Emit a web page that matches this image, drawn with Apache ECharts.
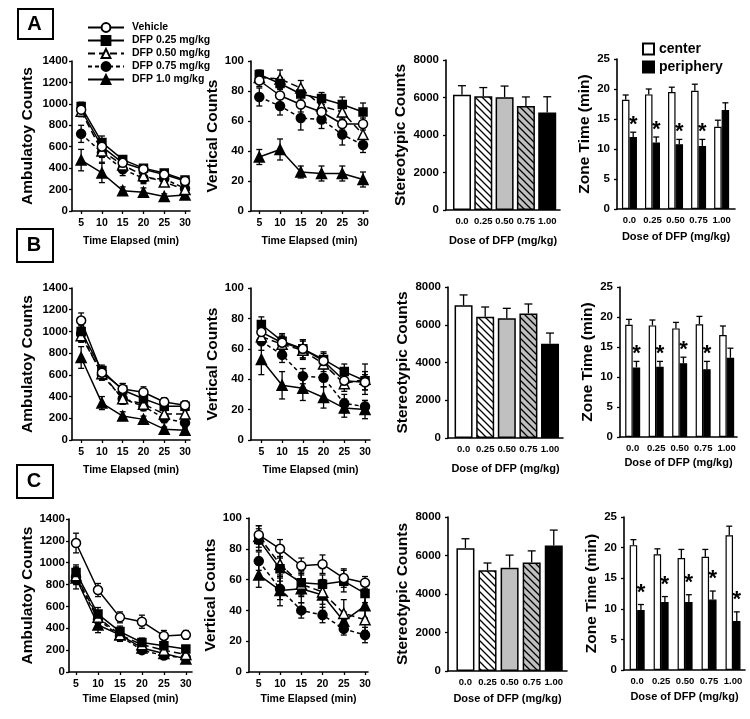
<!DOCTYPE html>
<html>
<head>
<meta charset="utf-8">
<script src="https://cdn.jsdelivr.net/npm/echarts@6.0.0/dist/echarts.min.js"></script>
<style>html,body{margin:0;padding:0;background:#fff;}#chart{width:750px;height:719px;}</style>
</head>
<body>
<div id="chart"></div>
<script>
// ---------- categories / labels ----------
const times = [5, 10, 15, 20, 25, 30];
const groupNames = ['Vehicle', 'DFP 0.25 mg/kg', 'DFP 0.50 mg/kg', 'DFP 0.75 mg/kg', 'DFP 1.0 mg/kg'];
const doseLabels = ['0.0', '0.25', '0.50', '0.75', '1.00'];
const doseIdx = [0, 1, 2, 3, 4];
const zoneNames = ['center', 'periphery'];
const panelLetters = ['A', 'B', 'C'];

// ---------- Row A ----------
const ambA_mean = [
  [945, 600, 450, 390, 340, 280],
  [975, 640, 480, 400, 355, 290],
  [930, 560, 430, 330, 270, 200],
  [720, 545, 390, 305, 300, 210],
  [475, 355, 190, 175, 135, 150]
];
const ambA_err = [
  [50, 60, 40, 30, 30, 30],
  [40, 60, 30, 30, 30, 30],
  [50, 60, 40, 40, 40, 40],
  [80, 90, 60, 50, 50, 40],
  [100, 90, 35, 40, 25, 35]
];
const vertA_mean = [
  [87, 77, 71, 66, 58, 58],
  [91, 85, 78, 75, 71, 66],
  [89, 88, 82, 70, 66, 51],
  [76, 70, 62, 61, 51, 44],
  [36, 41, 26, 25, 25, 21]
];
const vertA_err = [
  [4, 5, 5, 5, 4, 4],
  [3, 4, 4, 4, 5, 6],
  [4, 6, 5, 5, 5, 5],
  [6, 6, 8, 6, 7, 5],
  [5, 7, 4, 5, 5, 5]
];
const stereoA_mean = [6150, 6070, 6020, 5550, 5200];
const stereoA_err = [480, 460, 590, 480, 840];
const zoneA_center = [18.2, 19.1, 19.5, 19.7, 13.7];
const zoneA_centerErr = [0.8, 0.9, 0.8, 1.1, 1.1];
const zoneA_periph = [12.0, 11.1, 10.8, 10.5, 16.5];
const zoneA_periphErr = [0.8, 0.9, 0.8, 1.1, 1.2];
const zoneA_sig = [1, 1, 1, 1, 0];

// ---------- Row B ----------
const ambB_mean = [
  [1100, 620, 470, 440, 350, 320],
  [1000, 640, 460, 380, 310, 310],
  [960, 610, 380, 330, 240, 240],
  [980, 600, 380, 310, 200, 160],
  [760, 340, 220, 190, 100, 90]
];
const ambB_err = [
  [70, 50, 50, 50, 40, 40],
  [60, 50, 60, 40, 40, 40],
  [60, 50, 50, 40, 40, 40],
  [70, 50, 50, 40, 40, 40],
  [100, 60, 40, 30, 20, 20]
];
const vertB_mean = [
  [71, 64, 60, 52, 39, 38],
  [76, 65, 60, 53, 45, 39],
  [68, 63, 59, 50, 37, 40],
  [65, 56, 42, 41, 24, 22],
  [53, 36, 34, 28, 21, 20]
];
const vertB_err = [
  [5, 5, 6, 5, 5, 5],
  [5, 5, 6, 5, 5, 6],
  [5, 5, 6, 5, 5, 10],
  [6, 5, 5, 6, 6, 4],
  [10, 9, 8, 7, 6, 6]
];
const stereoB_mean = [7030, 6420, 6350, 6600, 5000];
const stereoB_err = [550, 520, 520, 500, 560];
const zoneB_center = [18.7, 18.6, 18.1, 18.8, 17.0];
const zoneB_centerErr = [0.9, 0.9, 1.0, 1.3, 1.5];
const zoneB_periph = [11.6, 11.7, 12.3, 11.3, 13.2];
const zoneB_periphErr = [1.0, 0.9, 1.0, 1.3, 1.6];
const zoneB_sig = [1, 1, 1, 1, 0];

// ---------- Row C ----------
const ambC_mean = [
  [1180, 750, 500, 460, 330, 340],
  [910, 530, 370, 270, 240, 210],
  [880, 500, 340, 250, 200, 160],
  [870, 480, 330, 200, 150, 130],
  [860, 430, 340, 220, 170, 120]
];
const ambC_err = [
  [90, 60, 50, 60, 50, 40],
  [70, 60, 50, 40, 30, 30],
  [80, 60, 50, 40, 30, 30],
  [60, 50, 40, 30, 30, 20],
  [100, 70, 60, 40, 30, 20]
];
const vertC_mean = [
  [89, 80, 69, 70, 61, 58],
  [86, 67, 58, 57, 59, 51],
  [88, 70, 57, 52, 38, 34],
  [72, 54, 40, 37, 28, 24],
  [63, 53, 54, 50, 33, 43]
];
const vertC_err = [
  [6, 6, 5, 6, 6, 4],
  [7, 8, 8, 6, 7, 6],
  [7, 8, 8, 8, 9, 7],
  [6, 7, 5, 5, 4, 5],
  [8, 10, 9, 10, 6, 8]
];
const stereoC_mean = [6380, 5230, 5370, 5640, 6520];
const stereoC_err = [490, 380, 650, 600, 800];
const zoneC_center = [20.4, 18.9, 18.3, 18.5, 22.0];
const zoneC_centerErr = [0.9, 0.9, 1.4, 1.2, 1.5];
const zoneC_periph = [9.8, 11.1, 11.1, 11.5, 8.0];
const zoneC_periphErr = [0.9, 0.9, 1.2, 1.4, 1.5];
const zoneC_sig = [1, 1, 1, 1, 1];

// ---------- styling / layout ----------
const FF = '"Liberation Sans", Arial, Helvetica, sans-serif';
const layout = {
  amb: [
    {l: 72, t: 61, w: 118, h: 150, xmin: 2.8, xmax: 31.2, gap: 25},
    {l: 72, t: 288, w: 118, h: 152, xmin: 2.8, xmax: 31.2, gap: 25},
    {l: 69, t: 519, w: 123, h: 153, xmin: 3.4, xmax: 31.4, gap: 22}
  ],
  vert: [
    {l: 251, t: 61, w: 117, h: 150, xmin: 3.0, xmax: 31.2, gap: 25},
    {l: 251, t: 288, w: 119, h: 152, xmin: 2.5, xmax: 31.2, gap: 25},
    {l: 249, t: 518, w: 119, h: 154, xmin: 2.7, xmax: 30.7, gap: 22}
  ],
  stereo: [
    {l: 446, t: 60, w: 114, h: 150, xmin: -0.75, xmax: 4.6, gap: 25},
    {l: 448, t: 287, w: 115, h: 151, xmin: -0.72, xmax: 4.6, gap: 25},
    {l: 448, t: 517, w: 119, h: 154, xmin: -0.79, xmax: 4.6, gap: 22}
  ],
  zone: [
    {l: 617, t: 59, w: 118, h: 150, xmin: -0.54, xmax: 4.58, gap: 22, star: 7},
    {l: 620, t: 287, w: 117, h: 150, xmin: -0.54, xmax: 4.44, gap: 20, star: 7},
    {l: 624, t: 517, w: 121, h: 153, xmin: -0.55, xmax: 4.5, gap: 21, star: 12}
  ]
};

const lineLooks = [
  {symbol: 'circle', size: 9, fill: '#fff', dash: 'solid'},
  {symbol: 'rect', size: 8, fill: '#000', dash: 'solid'},
  {symbol: 'triangle', size: 10, fill: '#fff', dash: [7, 4]},
  {symbol: 'circle', size: 9, fill: '#000', dash: [4, 3]},
  {symbol: 'triangle', size: 10, fill: '#000', dash: 'solid'}
];

function hatch(bg) {
  const s = 7;
  const c = document.createElement('canvas');
  c.width = s; c.height = s;
  const g = c.getContext('2d');
  g.fillStyle = bg; g.fillRect(0, 0, s, s);
  g.strokeStyle = '#000'; g.lineWidth = 1.3;
  g.beginPath();
  g.moveTo(-1, -1); g.lineTo(s + 1, s + 1);
  g.moveTo(-1, s - 1); g.lineTo(1, s + 1);
  g.moveTo(s - 1, -1); g.lineTo(s + 1, 1);
  g.stroke();
  return c;
}
const stereoFills = [
  '#ffffff',
  {image: hatch('#ffffff'), repeat: 'repeat'},
  '#c0c0c0',
  {image: hatch('#c0c0c0'), repeat: 'repeat'},
  '#000000'
];

const axisLineStyle = {show: true, onZero: false, lineStyle: {color: '#000', width: 1.6}};
const tickStyle = {show: true, inside: false, length: 3, lineStyle: {color: '#000', width: 1.3}};
const nameStyle = (size) => ({fontSize: size, fontWeight: 'bold', color: '#000', fontFamily: FF});
const ST = {stroke: '#000', lineWidth: 1.3};

const grids = [], xAxes = [], yAxes = [], series = [];

function addGrid(g) {
  grids.push({left: g.l, top: g.t, width: g.w, height: g.h, containLabel: false});
  return grids.length - 1;
}
function yAxis(i, max, interval, name, nameGap, margin) {
  return {
    gridIndex: i, type: 'value', min: 0, max: max, interval: interval,
    axisLine: axisLineStyle, axisTick: tickStyle, splitLine: {show: false},
    axisLabel: {margin: margin, fontSize: 11.5, fontWeight: 'bold', color: '#000', fontFamily: FF,
      formatter: v => String(v)},
    name: name, nameLocation: 'middle', nameGap: nameGap, nameTextStyle: nameStyle(15.5)
  };
}

function errRender(params, api) {
  const x = api.value(0);
  const lo = api.coord([x, api.value(1)]);
  const hi = api.coord([x, api.value(2)]);
  const w = 3;
  return {type: 'group', children: [
    {type: 'line', shape: {x1: hi[0], y1: hi[1], x2: lo[0], y2: lo[1]}, style: ST},
    {type: 'line', shape: {x1: hi[0] - w, y1: hi[1], x2: hi[0] + w, y2: hi[1]}, style: ST},
    {type: 'line', shape: {x1: lo[0] - w, y1: lo[1], x2: lo[0] + w, y2: lo[1]}, style: ST}
  ]};
}
function capRender(dx, w, starOff) {
  return function (params, api) {
    const x = api.value(0);
    const base = api.coord([x, api.value(1)]);
    const top = api.coord([x, api.value(2)]);
    const px = base[0] + dx;
    const children = [
      {type: 'line', shape: {x1: px, y1: base[1], x2: px, y2: top[1]}, style: ST},
      {type: 'line', shape: {x1: px - w, y1: top[1], x2: px + w, y2: top[1]}, style: ST}
    ];
    if (starOff != null && api.value(3)) {
      children.push({type: 'text', x: px, y: top[1] - starOff,
        style: {text: '*', fontSize: 22, fontWeight: 'bold', fontFamily: FF, fill: '#000', align: 'center', verticalAlign: 'middle'}});
    }
    return {type: 'group', children: children};
  };
}

function linePanel(g, yMax, yInt, yName, yGap, yMargin, means, errs) {
  const i = addGrid(g);
  xAxes.push({
    gridIndex: i, type: 'value', min: g.xmin, max: g.xmax,
    axisLine: axisLineStyle, axisTick: Object.assign({}, tickStyle, {customValues: times}),
    axisLabel: {customValues: times, margin: 7, fontSize: 10.5, fontWeight: 'bold', color: '#000', fontFamily: FF},
    splitLine: {show: false},
    name: 'Time Elapsed (min)', nameLocation: 'middle', nameGap: g.gap, nameTextStyle: nameStyle(10.5)
  });
  yAxes.push(yAxis(i, yMax, yInt, yName, yGap, yMargin));
  means.forEach((m, k) => {
    series.push({
      type: 'custom', xAxisIndex: i, yAxisIndex: i, z: 1, silent: true,
      renderItem: errRender, encode: {x: 0, y: [1, 2]},
      data: times.map((t, j) => [t, m[j] - errs[k][j], m[j] + errs[k][j]])
    });
  });
  means.forEach((m, k) => {
    const L = lineLooks[k];
    series.push({
      type: 'line', name: groupNames[k], xAxisIndex: i, yAxisIndex: i, z: 3 + (4 - k) * 0.1,
      symbol: L.symbol, symbolSize: L.size, showSymbol: true, showAllSymbol: true,
      lineStyle: {color: '#000', width: 1.5, type: L.dash},
      itemStyle: {color: L.fill, borderColor: '#000', borderWidth: 1.5},
      data: times.map((t, j) => [t, m[j]])
    });
  });
}

function doseXAxis(i, g, margin) {
  return {
    gridIndex: i, type: 'value', min: g.xmin, max: g.xmax,
    axisLine: axisLineStyle, axisTick: {show: false}, splitLine: {show: false},
    axisLabel: {customValues: doseIdx, formatter: v => doseLabels[Math.round(v)], margin: margin,
      fontSize: 9.5, fontWeight: 'bold', color: '#000', fontFamily: FF},
    name: 'Dose of DFP (mg/kg)', nameLocation: 'middle', nameGap: g.gap, nameTextStyle: nameStyle(11)
  };
}

function stereoPanel(g, means, errs) {
  const i = addGrid(g);
  xAxes.push(doseXAxis(i, g, 6));
  yAxes.push(yAxis(i, 8000, 2000, 'Stereotypic Counts', 37, 7));
  series.push({
    type: 'bar', xAxisIndex: i, yAxisIndex: i, barWidth: 18, z: 2,
    data: means.map((v, k) => ({value: [doseIdx[k], v],
      itemStyle: {color: stereoFills[k], borderColor: '#000', borderWidth: 1.5}}))
  });
  series.push({
    type: 'custom', xAxisIndex: i, yAxisIndex: i, z: 1, silent: true,
    renderItem: capRender(0, 4, null), encode: {x: 0, y: [1, 2]},
    data: means.map((v, k) => [doseIdx[k], v, v + errs[k]])
  });
}

function zonePanel(g, cM, cE, pM, pE, sig) {
  const i = addGrid(g);
  const bw = 7.5;
  xAxes.push(doseXAxis(i, g, 6));
  yAxes.push(yAxis(i, 25, 5, 'Zone Time (min)', 24, 7));
  series.push({
    type: 'bar', name: zoneNames[0], xAxisIndex: i, yAxisIndex: i, barWidth: bw, barGap: '0%', z: 2,
    itemStyle: {color: '#fff', borderColor: '#000', borderWidth: 1.2},
    data: cM.map((v, k) => [doseIdx[k], v])
  });
  series.push({
    type: 'bar', name: zoneNames[1], xAxisIndex: i, yAxisIndex: i, barWidth: bw, barGap: '0%', z: 2,
    itemStyle: {color: '#000', borderColor: '#000', borderWidth: 1.2},
    data: pM.map((v, k) => [doseIdx[k], v])
  });
  series.push({
    type: 'custom', xAxisIndex: i, yAxisIndex: i, z: 1, silent: true,
    renderItem: capRender(-bw / 2, 3, null), encode: {x: 0, y: [1, 2]},
    data: cM.map((v, k) => [doseIdx[k], v, v + cE[k]])
  });
  series.push({
    type: 'custom', xAxisIndex: i, yAxisIndex: i, z: 1, silent: true,
    renderItem: capRender(bw / 2, 3, g.star), encode: {x: 0, y: [1, 2]},
    data: pM.map((v, k) => [doseIdx[k], v, v + pE[k], sig[k]])
  });
}

// Row A
linePanel(layout.amb[0], 1400, 200, 'Ambulatoy Counts', 36, 4, ambA_mean, ambA_err);
linePanel(layout.vert[0], 100, 20, 'Vertical Counts', 30, 7, vertA_mean, vertA_err);
stereoPanel(layout.stereo[0], stereoA_mean, stereoA_err);
zonePanel(layout.zone[0], zoneA_center, zoneA_centerErr, zoneA_periph, zoneA_periphErr, zoneA_sig);
// Row B
linePanel(layout.amb[1], 1400, 200, 'Ambulatoy Counts', 36, 4, ambB_mean, ambB_err);
linePanel(layout.vert[1], 100, 20, 'Vertical Counts', 30, 7, vertB_mean, vertB_err);
stereoPanel(layout.stereo[1], stereoB_mean, stereoB_err);
zonePanel(layout.zone[1], zoneB_center, zoneB_centerErr, zoneB_periph, zoneB_periphErr, zoneB_sig);
// Row C
linePanel(layout.amb[2], 1400, 200, 'Ambulatoy Counts', 33, 4, ambC_mean, ambC_err);
linePanel(layout.vert[2], 100, 20, 'Vertical Counts', 30, 7, vertC_mean, vertC_err);
stereoPanel(layout.stereo[2], stereoC_mean, stereoC_err);
zonePanel(layout.zone[2], zoneC_center, zoneC_centerErr, zoneC_periph, zoneC_periphErr, zoneC_sig);

const letterBoxes = [
  {x: 17, y: 8, w: 35, h: 30},
  {x: 16, y: 228, w: 36, h: 33},
  {x: 16, y: 464, w: 36, h: 33}
];
const graphics = [];
letterBoxes.forEach((b, k) => {
  graphics.push({type: 'rect', left: b.x, top: b.y, shape: {width: b.w, height: b.h},
    style: {fill: '#fff', stroke: '#000', lineWidth: 2}});
  graphics.push({type: 'text', x: b.x + b.w / 2, y: b.y + b.h / 2 + 1,
    style: {text: panelLetters[k], fontSize: 20, fontWeight: 'bold', fontFamily: FF, fill: '#000', align: 'center', verticalAlign: 'middle'}});
});

const option = {
  animation: false,
  backgroundColor: '#fff',
  textStyle: {fontFamily: FF},
  grid: grids, xAxis: xAxes, yAxis: yAxes, series: series,
  legend: [
    {data: groupNames, orient: 'vertical', left: 82, top: 17, itemWidth: 36, itemHeight: 11, itemGap: 2,
      selectedMode: false, textStyle: {fontSize: 10.5, fontWeight: 'bold', color: '#000', fontFamily: FF, padding: [0, 0, 0, 3]}},
    {data: zoneNames, orient: 'vertical', left: 637, top: 37, itemWidth: 11, itemHeight: 11, itemGap: 4, icon: 'rect',
      selectedMode: false, textStyle: {fontSize: 14, fontWeight: 'bold', color: '#000', fontFamily: FF, padding: [0, 0, 0, 0]}}
  ],
  graphic: graphics
};

const chart = echarts.init(document.getElementById('chart'), null, {renderer: 'canvas'});
chart.setOption(option);
</script>
</body>
</html>
